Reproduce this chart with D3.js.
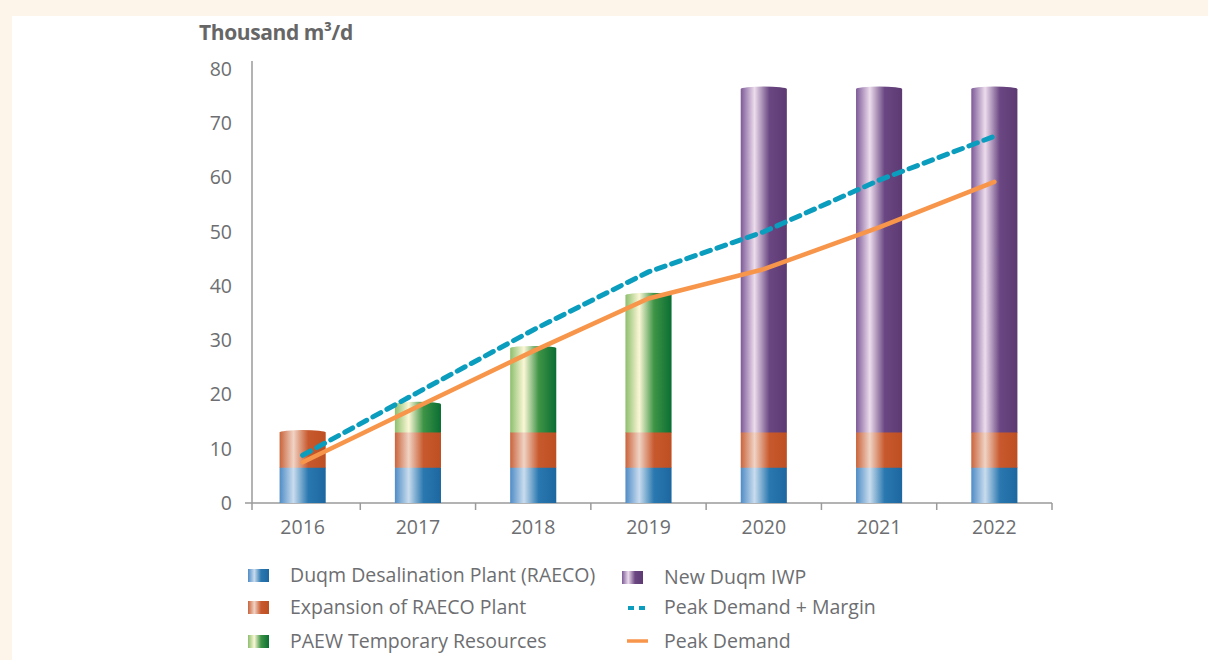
<!DOCTYPE html>
<html>
<head>
<meta charset="utf-8">
<script src="https://cdn.jsdelivr.net/npm/d3@7"></script>
<style>
  html, body { margin: 0; padding: 0; background: #fdf4ea; }
  svg { display: block; }
</style>
</head>
<body>
<svg id="chart" width="1208" height="660"></svg>
<script>
// ---- Data ----
const years = ["2016", "2017", "2018", "2019", "2020", "2021", "2022"];
const raeco = [6.5, 6.5, 6.5, 6.5, 6.5, 6.5, 6.5];
const expansion = [6.5, 6.5, 6.5, 6.5, 6.5, 6.5, 6.5];
const paew = [0, 5.2, 15.5, 25.3, 0, 0, 0];
const newIwp = [0, 0, 0, 0, 63.3, 63.3, 63.3];
const peakMargin = [8.8, 20.4, 31.9, 42.6, 50.0, 59.5, 67.6];
const peakDemand = [7.5, 17.8, 28.0, 37.7, 43.1, 50.8, 59.2];
const yTicks = [0, 10, 20, 30, 40, 50, 60, 70, 80];

const seriesNames = ["Duqm Desalination Plant (RAECO)", "Expansion of RAECO Plant", "PAEW Temporary Resources", "New Duqm IWP"];
const seriesData = [raeco, expansion, paew, newIwp];
const seriesGrad = [
  ["#4f8cc6", "#c9dcee", "#2a78b0", "#1d67a0"],
  ["#c9643c", "#f0d3c4", "#c8592e", "#bd4f22"],
  ["#8dbf6e", "#fbf7d6", "#3e9446", "#0a6e33"],
  ["#7d5a98", "#ecdcec", "#6a4782", "#5e3a73"]
];

const svg = d3.select("#chart");
const W = 1208, H = 660;

// panel
svg.append("rect").attr("x", 12).attr("y", 16).attr("width", W - 12).attr("height", H - 16).attr("fill", "#ffffff");

const defs = svg.append("defs");
seriesGrad.forEach((c, i) => {
  const g = defs.append("linearGradient").attr("id", "g" + i).attr("x1", "0%").attr("x2", "100%").attr("y1", "0%").attr("y2", "0%");
  g.append("stop").attr("offset", "0%").attr("stop-color", c[0]);
  g.append("stop").attr("offset", "30%").attr("stop-color", c[1]);
  g.append("stop").attr("offset", "62%").attr("stop-color", c[2]);
  g.append("stop").attr("offset", "100%").attr("stop-color", c[3]);
});

const x = d3.scaleBand().domain(years).range([245, 1052]).paddingInner(0.6).paddingOuter(0.3);
const y = d3.scaleLinear().domain([0, 80]).range([503, 69]);

const textColor = "#6d6e71";
const axisColor = "#9a9a9a";
const font = "'Open Sans', Lato, sans-serif";
const fs = 19.5;

// title
svg.append("text").attr("x", 199).attr("y", 40).attr("font-family", font).attr("font-weight", 700)
  .attr("font-size", 21).attr("fill", "#666666").attr("letter-spacing", "-0.4").text("Thousand m³/d");

// y axis
const yAxis = d3.axisLeft(y).tickValues(yTicks).tickSize(0).tickPadding(20);
const gy = svg.append("g").attr("transform", "translate(252,0)").call(yAxis);
gy.select(".domain").remove();
gy.selectAll("text").attr("font-family", font).attr("font-size", fs).attr("fill", textColor);
svg.append("line").attr("x1", 252).attr("x2", 252).attr("y1", 61).attr("y2", 510).attr("stroke", axisColor).attr("stroke-width", 1.5);

// x axis
const xAxis = d3.axisBottom(x).tickSize(0).tickPadding(17);
const gx = svg.append("g").attr("transform", "translate(0,503)").call(xAxis);
gx.select(".domain").remove();
gx.selectAll("text").attr("font-family", font).attr("font-size", fs).attr("fill", textColor);
svg.append("line").attr("x1", 245).attr("x2", 1052).attr("y1", 503).attr("y2", 503).attr("stroke", axisColor).attr("stroke-width", 1.5);
const bounds = years.slice(1).map(d => x(d) - x.step() * x.paddingInner() / 2).concat([1052]);
svg.selectAll("line.xtick").data(bounds).join("line").attr("class", "xtick")
  .attr("x1", d => d).attr("x2", d => d).attr("y1", 503).attr("y2", 510)
  .attr("stroke", axisColor).attr("stroke-width", 1.5);

// stacked bars
const stackRows = years.map((yr, i) => {
  const o = { year: yr };
  seriesData.forEach((s, k) => o["s" + k] = s[i]);
  return o;
});
const stack = d3.stack().keys(seriesData.map((_, k) => "s" + k));
const stacked = stack(stackRows);
const bw = x.bandwidth();
stacked.forEach((layer, k) => {
  const segs = layer.filter(d => d[1] - d[0] > 0);
  const g = svg.append("g");
  g.selectAll("rect").data(segs).join("rect")
    .attr("x", d => x(d.data.year))
    .attr("y", d => y(d[1]))
    .attr("width", bw)
    .attr("height", d => y(d[0]) - y(d[1]))
    .attr("fill", `url(#g${k})`);
  g.selectAll("ellipse").data(segs).join("ellipse")
    .attr("cx", d => x(d.data.year) + bw / 2)
    .attr("cy", d => y(d[1]))
    .attr("rx", bw / 2)
    .attr("ry", 2.5)
    .attr("fill", `url(#g${k})`);
});

// lines
const line = d3.line().x((d, i) => x(years[i]) + bw / 2).y(d => y(d));
svg.append("path").datum(peakMargin).attr("d", line).attr("fill", "none")
  .attr("stroke", "#0a9dbd").attr("stroke-width", 5).attr("stroke-dasharray", "9,7").attr("stroke-linecap", "round");
svg.append("path").datum(peakDemand).attr("d", line).attr("fill", "none")
  .attr("stroke", "#f7954a").attr("stroke-width", 4.5).attr("stroke-linecap", "round").attr("stroke-linejoin", "round");

// legend
const legendItems = [
  { name: seriesNames[0], type: "bar", k: 0, x: 248, y: 575 },
  { name: seriesNames[1], type: "bar", k: 1, x: 248, y: 607 },
  { name: seriesNames[2], type: "bar", k: 2, x: 248, y: 641 },
  { name: seriesNames[3], type: "bar", k: 3, x: 622, y: 577 },
  { name: "Peak Demand + Margin", type: "dash", x: 622, y: 607 },
  { name: "Peak Demand", type: "line", x: 622, y: 641 }
];
const lg = svg.append("g");
legendItems.forEach(it => {
  if (it.type === "bar") {
    lg.append("rect").attr("x", it.x).attr("y", it.y - 6).attr("width", 21).attr("height", 13).attr("fill", `url(#g${it.k})`);
  } else if (it.type === "dash") {
    lg.append("line").attr("x1", it.x + 6).attr("x2", it.x + 24).attr("y1", it.y + 1).attr("y2", it.y + 1)
      .attr("stroke", "#0a9dbd").attr("stroke-width", 4).attr("stroke-dasharray", "6,5");
  } else {
    lg.append("line").attr("x1", it.x + 5).attr("x2", it.x + 26).attr("y1", it.y).attr("y2", it.y)
      .attr("stroke", "#f7954a").attr("stroke-width", 3.5);
  }
  lg.append("text").attr("x", it.x + 42).attr("y", it.y).attr("dy", "0.35em")
    .attr("font-family", font).attr("font-size", fs).attr("fill", textColor).text(it.name);
});
</script>
</body>
</html>
